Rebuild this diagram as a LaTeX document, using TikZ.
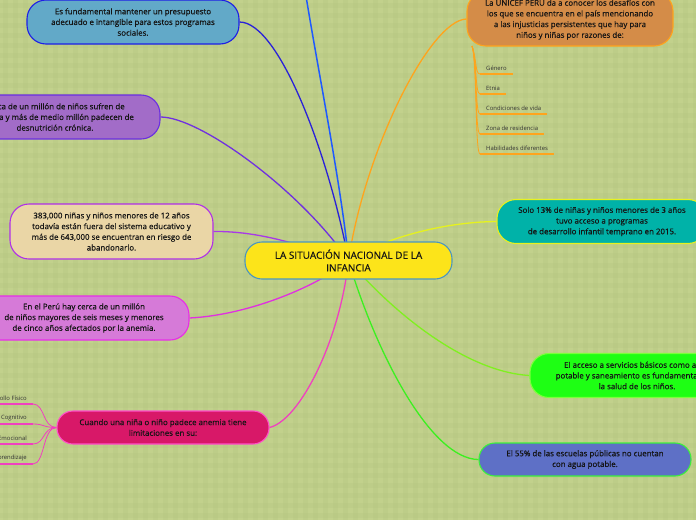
\documentclass[tikz,border=0pt]{standalone}
\usepackage{fontspec}
\setmainfont{Open Sans}
\newfontfamily\nodefont[FakeBold=0.35]{Open Sans}
\usetikzlibrary{calc}
\pgfdeclarelayer{bg}
\pgfdeclarelayer{conn}
\pgfsetlayers{bg,conn,main}
\definecolor{bgc}{HTML}{C2D18C}
\definecolor{gridc}{HTML}{B4C680}
\definecolor{txt}{HTML}{141414}
\definecolor{leaftxt}{HTML}{333333}
\definecolor{aF}{HTML}{62A9C8}\definecolor{aD}{HTML}{1E1EE6}\definecolor{aC}{HTML}{2A22D8}
\definecolor{topC}{HTML}{1E5AFF}
\definecolor{bF}{HTML}{A26CC8}\definecolor{bD}{HTML}{6A30E0}\definecolor{bC}{HTML}{7030E0}
\definecolor{cF}{HTML}{EAD6A6}\definecolor{cD}{HTML}{B030E8}\definecolor{cC}{HTML}{A838E8}
\definecolor{dF}{HTML}{D67AD8}\definecolor{dD}{HTML}{E82EE8}\definecolor{dC}{HTML}{E030E0}
\definecolor{eF}{HTML}{D81868}\definecolor{eD}{HTML}{FF50C8}\definecolor{eC}{HTML}{F040C0}
\definecolor{rF}{HTML}{FCE41A}\definecolor{rD}{HTML}{4A96C0}
\definecolor{oF}{HTML}{D48C48}\definecolor{oD}{HTML}{FFA41C}\definecolor{oC}{HTML}{FFA41C}
\definecolor{tF}{HTML}{00B2A8}\definecolor{tD}{HTML}{E6F21E}\definecolor{tC}{HTML}{E6F21E}
\definecolor{gF}{HTML}{1EFF14}\definecolor{gD}{HTML}{7CFF3C}\definecolor{gC}{HTML}{80F020}
\definecolor{vF}{HTML}{5E70C6}\definecolor{vD}{HTML}{3CF03C}\definecolor{vC}{HTML}{3CF020}
\begin{document}
\begin{tikzpicture}[x=1pt,y=-1pt,
  topic/.style={draw, line width=1.1pt, rectangle, rounded corners=19pt, align=center,
    text=txt, font=\nodefont\fontsize{7.9}{10.7}\selectfont, inner sep=0pt},
  rootbox/.style={topic, rounded corners=17pt, font=\nodefont\fontsize{10}{12.6}\selectfont},
  conn/.style={line width=1.3pt},
  leaf/.style={font=\fontsize{5.9}{7}\selectfont, text=leaftxt, inner xsep=6pt, inner ysep=3pt},
  leafline/.style={line width=1.5pt},
  twig/.style={line width=0.8pt}
]
\useasboundingbox (0,0) rectangle (696,520);
\begin{pgfonlayer}{bg}
  \fill[bgc] (0,0) rectangle (696,520);
  \foreach \i in {0,10,...,690} {
    \draw[gridc, opacity=0.3, line width=5pt] (\i+5,0) -- (\i+5,520);
  }
  \foreach \j in {0,10,...,510} {
    \draw[gridc, opacity=0.3, line width=5pt] (0,\j+5) -- (696,\j+5);
  }
\end{pgfonlayer}

% nodes
\node[topic, fill=aF, draw=aD, minimum width=212pt, minimum height=44pt] (n1) at (133,22)
  {Es fundamental mantener un presupuesto\\adecuado e intangible para estos programas\\sociales.};
\node[topic, fill=bF, draw=bD, minimum width=210pt, minimum height=44pt] (n2) at (55,117)
  {Cerca de un millón de niños sufren de\\anemia y más de medio millón padecen de\\desnutrición crónica.};
\node[topic, fill=cF, draw=cD, minimum width=203pt, minimum height=55pt] (n3) at (111.5,231.5)
  {383,000 niñas y niños menores de 12 años\\todavía están fuera del sistema educativo y\\más de 643,000 se encuentran en riesgo de\\abandonarlo.};
\node[topic, fill=dF, draw=dD, minimum width=210pt, minimum height=44pt] (n4) at (84,318)
  {En el Perú hay cerca de un millón\\de niños mayores de seis meses y menores\\de cinco años afectados por la anemia.};
\node[topic, rounded corners=16pt, fill=eF, draw=eD, minimum width=212pt, minimum height=33pt] (n5) at (163,427.5)
  {Cuando una niña o niño padece anemia tiene\\limitaciones en su:};
\node[rootbox, fill=rF, draw=rD, minimum width=207pt, minimum height=37pt] (root) at (348.5,260.5)
  {LA SITUACIÓN NACIONAL DE LA\\INFANCIA};
\node[topic, fill=oF, draw=oD, minimum width=206pt, minimum height=54pt] (n7) at (570,19)
  {La UNICEF PERÚ da a conocer los desafíos con\\los que se encuentra en el país mencionando\\a las injusticias persistentes que hay para\\niños y niñas por razones de:};
\node[topic, fill=tF, draw=tD, minimum width=210pt, minimum height=44pt] (n8) at (602,221.5)
  {Solo 13\% de niñas y niños menores de 3 años\\tuvo acceso a programas\\de desarrollo infantil temprano en 2015.};
\node[topic, fill=gF, draw=gD, minimum width=214pt, minimum height=44pt] (n9) at (637,375.5)
  {El acceso a servicios básicos como agua\\potable y saneamiento es fundamental para\\la salud de los niños.};
\node[topic, rounded corners=16pt, fill=vF, draw=vD, minimum width=212pt, minimum height=33pt] (n10) at (585,459.5)
  {El 55\% de las escuelas públicas no cuentan\\con agua potable.};

% right leaves
\node[leaf, anchor=south west] (r1) at (480,74) {Género};
\node[leaf, anchor=south west] (r2) at (480,94) {Etnia};
\node[leaf, anchor=south west] (r3) at (480,114) {Condiciones de vida};
\node[leaf, anchor=south west] (r4) at (480,134) {Zona de residencia};
\node[leaf, anchor=south west] (r5) at (480,154) {Habilidades diferentes};
% left leaves
\node[leaf, anchor=south east] (l1) at (33,404) {Desarrollo Físico};
\node[leaf, anchor=south east] (l2) at (33,424) {Desarrollo Cognitivo};
\node[leaf, anchor=south east] (l3) at (33,444) {Desarrollo Emocional};
\node[leaf, anchor=south east] (l4) at (33,464) {Aprendizaje};

\coordinate (topend) at (306,-4);
\coordinate (ob) at (472,46);

\begin{pgfonlayer}{conn}
  \draw[conn, aC] (n1.east) .. controls (280,22) and (330,160) .. (root.center);
  \draw[conn, topC, line width=1.5pt] (topend) .. controls (318,70) and (342,190) .. (root.center);
  \draw[conn, bC] (n2.east) .. controls (200,117) and (300,190) .. (root.center);
  \draw[conn, cC] (n3.east) .. controls (260,231) and (300,245) .. (root.center);
  \draw[conn, dC] (n4.east) .. controls (250,315) and (320,285) .. (root.center);
  \draw[conn, eC] (n5.east) .. controls (300,420) and (340,340) .. (root.center);
  \draw[conn, oC] (n7.west) .. controls (430,20) and (365,150) .. (root.center);
  \draw[conn, tC] (n8.west) .. controls (440,222) and (380,240) .. (root.center);
  \draw[conn, gC] (n9.west) .. controls (470,372) and (400,320) .. (root.center);
  \draw[conn, vC] (n10.west) .. controls (430,459) and (375,350) .. (root.center);
  % orange twigs
  \foreach \l in {r1,r2,r3,r4,r5} {
    \draw[twig, oC] (ob) .. controls +(5,14) and +(-5,0) .. (\l.south west);
    \draw[leafline, oC] (\l.south west) -- (\l.south east);
  }
  % pink twigs
  \foreach \l in {l1,l2,l3,l4} {
    \draw[twig, eC] (n5.west) .. controls +(-14,0) and +(12,0) .. (\l.south east);
    \draw[leafline, eC] (\l.south west) -- (\l.south east);
  }
\end{pgfonlayer}
\end{tikzpicture}
\end{document}
